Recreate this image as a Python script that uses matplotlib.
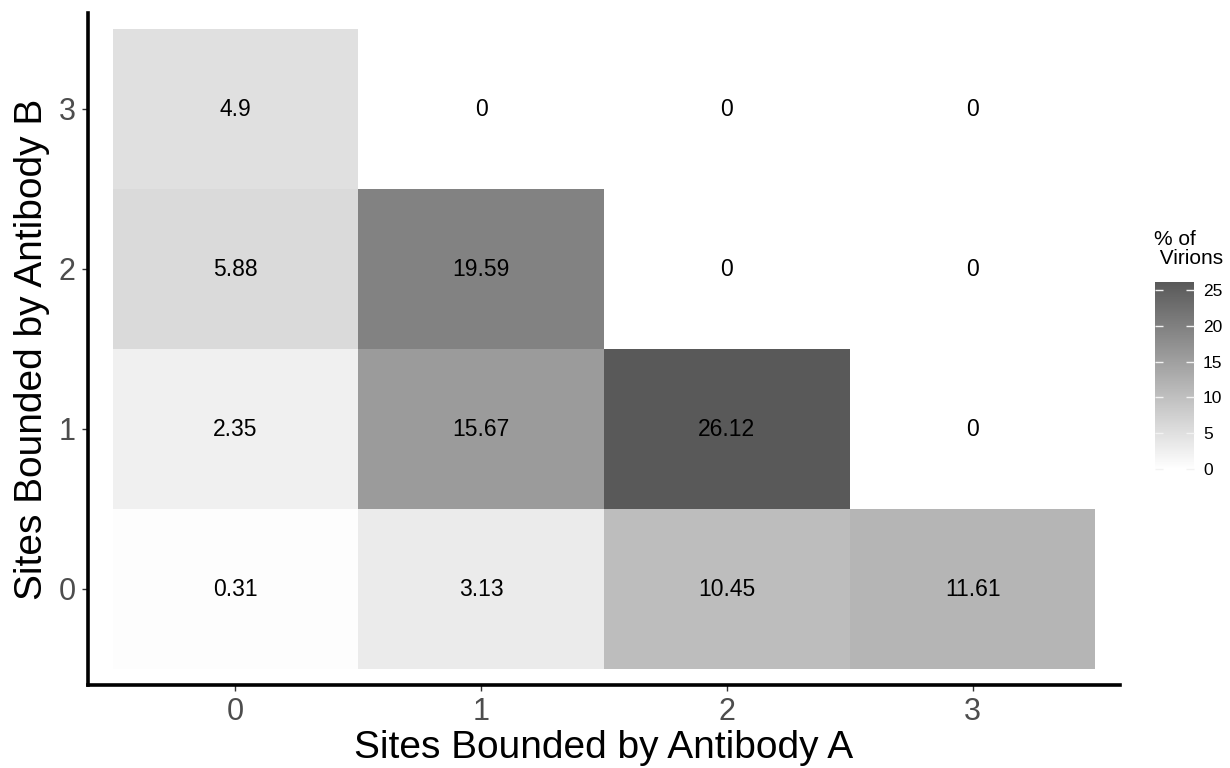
import matplotlib.pyplot as plt
import numpy as np
from matplotlib.colors import LinearSegmentedColormap, Normalize
from matplotlib.cm import ScalarMappable

plt.rcParams["font.family"] = ["Liberation Sans", "DejaVu Sans"]

# rows: sites bound by antibody B (0..3), columns: sites bound by antibody A (0..3)
sites_a = [0, 1, 2, 3]
sites_b = [0, 1, 2, 3]
pct_b0 = [0.31, 3.13, 10.45, 11.61]
pct_b1 = [2.35, 15.67, 26.12, 0]
pct_b2 = [5.88, 19.59, 0, 0]
pct_b3 = [4.9, 0, 0, 0]

grid = np.array([pct_b0, pct_b1, pct_b2, pct_b3])
vmax = grid.max()

cmap = LinearSegmentedColormap.from_list("virions", ["#ffffff", "#595959"])
norm = Normalize(vmin=0, vmax=vmax)

fig = plt.figure(figsize=(12.3, 7.68), dpi=100)
ax = fig.add_axes([88 / 1230, 83 / 768, 1032 / 1230, 672 / 768])

edges_a = np.arange(len(sites_a) + 1) - 0.5
edges_b = np.arange(len(sites_b) + 1) - 0.5
ax.pcolormesh(edges_a, edges_b, grid, cmap=cmap, norm=norm, shading="flat")

for i, b in enumerate(sites_b):
    for j, a in enumerate(sites_a):
        val = grid[i, j]
        ax.text(a, b, f"{val:g}", ha="center", va="center", fontsize=16.5, color="black")

ax.set_xlim(-0.6, 3.6)
ax.set_ylim(-0.6, 3.6)
ax.set_xticks(sites_a)
ax.set_yticks(sites_b)
ax.tick_params(axis="both", which="major", labelsize=22, labelcolor="#4d4d4d",
               color="#333333", length=4, width=1.0, pad=5)

for side in ("top", "right"):
    ax.spines[side].set_visible(False)
for side in ("left", "bottom"):
    ax.spines[side].set_linewidth(2.6)
    ax.spines[side].set_color("black")

ax.set_xlabel("Sites Bounded by Antibody A", fontsize=28, labelpad=2)
ax.set_ylabel("Sites Bounded by Antibody B", fontsize=28, labelpad=6)

# colour bar legend
cax = fig.add_axes([1155 / 1230, (768 - 469) / 768, 39 / 1230, 187 / 768])
cb = fig.colorbar(ScalarMappable(norm=norm, cmap=cmap), cax=cax)
cb.outline.set_visible(False)
cb.set_ticks([0, 5, 10, 15, 20, 25])
cax.tick_params(axis="y", direction="in", color="#f2f2f2", length=5.8, width=1.0,
                left=True, right=True, labelleft=False, labelright=True,
                labelsize=12.5, labelcolor="black", pad=6.5)
fig.text(1154 / 1230, (768 - 230) / 768, "% of\n Virions", fontsize=15,
         ha="left", va="top", linespacing=1.0)

fig.savefig("out.png", dpi=100)
